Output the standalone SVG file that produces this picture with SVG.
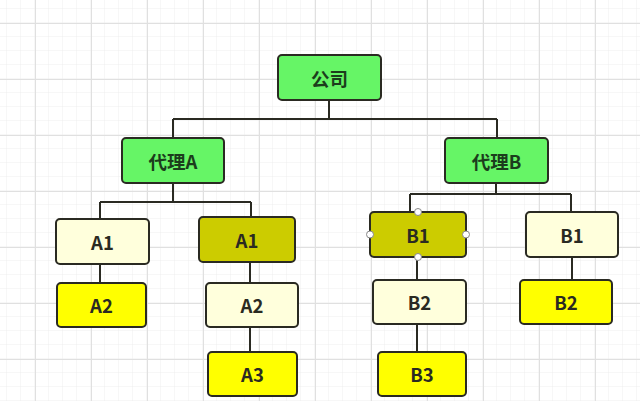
<svg xmlns="http://www.w3.org/2000/svg" width="640" height="401" viewBox="0 0 640 401">
<defs>
<pattern id="minor" width="14" height="14" patternUnits="userSpaceOnUse" x="7" y="9">
<path d="M14 0V14M0 14H14" fill="none" stroke="#eeeeee" stroke-width="1"/>
</pattern>
<pattern id="major" width="56" height="56" patternUnits="userSpaceOnUse" x="35" y="23">
<path d="M0.5 0V56M0 0.5H56" fill="none" stroke="#e0e0e0" stroke-width="1"/>
</pattern>
<style>
.n{stroke:#2a2a22;stroke-width:2}
.g{fill:#66f566}
.ly{fill:#ffffdc}
.dy{fill:#cccc00}
.y{fill:#ffff00}
.t{font-family:"Noto Sans CJK SC","Noto Sans",sans-serif;font-weight:bold;font-size:18.5px;fill:#2a2a22;text-anchor:middle;dominant-baseline:central}
.tg{fill:#1c3d1c}
.c{fill:none;stroke:#2a2a22;stroke-width:2}
.h{fill:#fff;stroke:#888;stroke-width:1}
</style>
</defs>
<rect width="640" height="401" fill="#fff"/>
<rect width="640" height="401" fill="url(#minor)"/>
<rect width="640" height="401" fill="url(#major)"/>
<g id="connectors" class="c">
<path d="M329 100V119M173 119H497M173 119V138M497 119V138"/>
<path d="M173 183V202M100 202H251M100 202V219M251 202V217"/>
<path d="M100 264V283M250 262V283M250 327V352"/>
<path d="M496 183V194M410 194H571M410 194V212M571 194V212"/>
<path d="M417 257V280M417 324V352M572 257V280"/>
</g>
<g id="n-gongsi"><rect class="n g" x="278" y="55" width="103" height="45" rx="4"/><text class="t tg" x="329.5" y="77.5">公司</text></g>
<g id="n-dailiA"><rect class="n g" x="122" y="138" width="102" height="45" rx="4"/><text class="t tg" x="173" y="160.5">代理A</text></g>
<g id="n-dailiB"><rect class="n g" x="445" y="138" width="103" height="45" rx="4"/><text class="t tg" x="496.5" y="160.5">代理B</text></g>
<g id="n-a1-left"><rect class="n ly" x="56" y="219" width="93" height="45" rx="4"/><text class="t" x="102.5" y="241.5">A1</text></g>
<g id="n-a2-left"><rect class="n y" x="57" y="283" width="89" height="44" rx="4"/><text class="t" x="101.5" y="305">A2</text></g>
<g id="n-a1-right"><rect class="n dy" x="199" y="217" width="96" height="45" rx="4"/><text class="t" x="247" y="239.5">A1</text></g>
<g id="n-a2-right"><rect class="n ly" x="206" y="283" width="92" height="44" rx="4"/><text class="t" x="252" y="305">A2</text></g>
<g id="n-a3"><rect class="n y" x="208" y="352" width="89" height="44" rx="4"/><text class="t" x="252.5" y="374">A3</text></g>
<g id="n-b1-left"><rect class="n dy" x="370" y="212" width="96" height="45" rx="4"/><text class="t" x="418" y="234.5">B1</text>
<circle class="h" cx="418" cy="212" r="3.5"/><circle class="h" cx="370" cy="234.5" r="3.5"/><circle class="h" cx="466" cy="234.5" r="3.5"/><circle class="h" cx="418" cy="257" r="3.5"/></g>
<g id="n-b2-left"><rect class="n ly" x="373" y="280" width="93" height="44" rx="4"/><text class="t" x="419.5" y="302">B2</text></g>
<g id="n-b3"><rect class="n y" x="378" y="352" width="88" height="44" rx="4"/><text class="t" x="422" y="374">B3</text></g>
<g id="n-b1-right"><rect class="n ly" x="526" y="212" width="92" height="45" rx="4"/><text class="t" x="572" y="234.5">B1</text></g>
<g id="n-b2-right"><rect class="n y" x="520" y="280" width="92" height="44" rx="4"/><text class="t" x="566" y="302">B2</text></g>
</svg>
